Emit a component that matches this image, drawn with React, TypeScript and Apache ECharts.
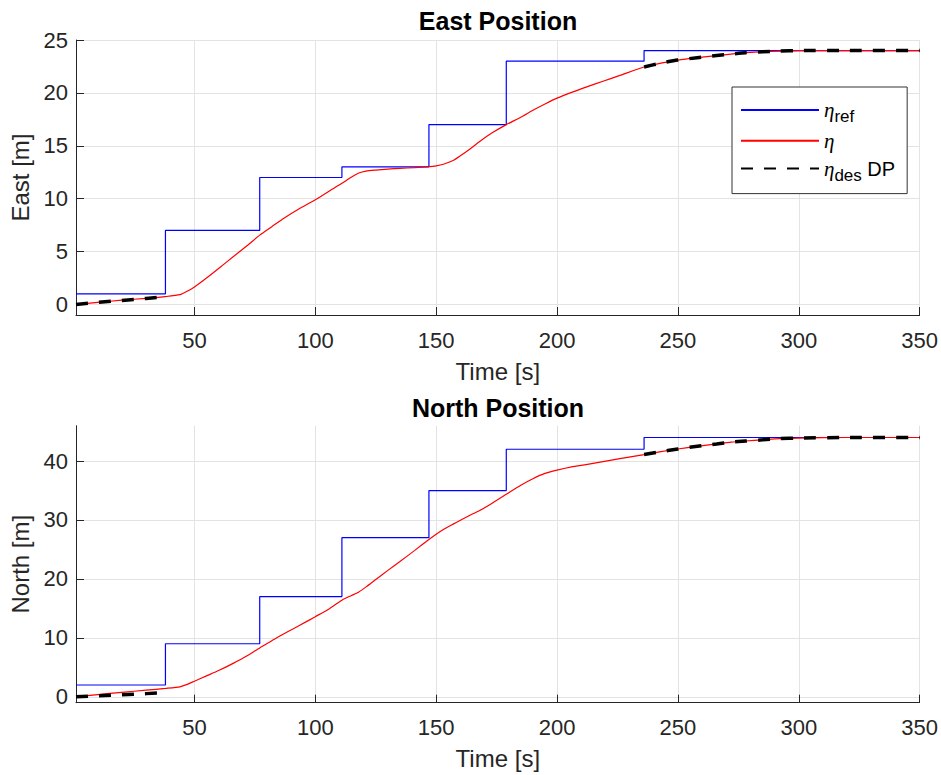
import React, { useEffect, useRef } from 'react';
import * as echarts from 'echarts';

// Reference (step) signal: change times and levels
const stepTimes = [1, 38, 77, 111, 147, 179, 236, 350];
const eastRef = [1, 7, 12, 13, 17, 23, 24, 24];
const northRef = [2, 9, 17, 27, 35, 42, 44, 44];

// Actual position eta
const etaTimes = [
  1, 10, 20, 30, 38, 44, 47, 50, 55, 60, 66, 72, 77, 82, 87, 93, 100, 106, 111, 115,
  118, 121, 125, 130, 135, 141, 147, 150, 153, 157, 160, 164, 168, 173, 179, 185, 190, 195, 200, 206,
  212, 219, 226, 236, 243, 250, 258, 266, 272, 278, 285, 292, 300, 320, 350,
];
const eastEta = [
  0, 0.2, 0.4, 0.58, 0.74, 0.92, 1.25, 1.65, 2.5, 3.4, 4.5, 5.6, 6.55, 7.35, 8.15, 9.0, 9.9, 10.75, 11.45, 12.05,
  12.42, 12.6, 12.7, 12.8, 12.87, 12.93, 13.02, 13.1, 13.25, 13.6, 14.05, 14.7, 15.4, 16.2, 17.0, 17.7, 18.35, 18.95, 19.5, 20.05,
  20.55, 21.1, 21.65, 22.45, 22.82, 23.1, 23.33, 23.53, 23.67, 23.8, 23.88, 23.95, 24.0, 24.0, 24.0,
];
const northEta = [
  0, 0.38, 0.76, 1.12, 1.43, 1.7, 2.1, 2.65, 3.55, 4.45, 5.67, 7.0, 8.3, 9.5, 10.7, 12.0, 13.6, 15.0, 16.4, 17.2,
  17.8, 18.65, 19.9, 21.45, 22.95, 24.8, 26.7, 27.6, 28.4, 29.3, 29.95, 30.8, 31.6, 32.8, 34.35, 35.9, 37.0, 37.9, 38.45, 39.0,
  39.4, 39.9, 40.4, 41.1, 41.6, 42.05, 42.5, 42.9, 43.2, 43.4, 43.6, 43.8, 43.9, 44.0, 44.0,
];

// Desired DP position (only during DP phases)
const desTimesA = [1, 10, 20, 30, 38];
const eastDesA = [0, 0.19, 0.38, 0.56, 0.72];
const northDesA = [0, 0.18, 0.36, 0.54, 0.7];
const desTimesB = [236, 243, 250, 258, 266, 272, 278, 285, 292, 300, 320, 350];
const eastDesB = [22.45, 22.82, 23.1, 23.33, 23.53, 23.67, 23.8, 23.88, 23.95, 24.0, 24.0, 24.0];
const northDesB = [41.1, 41.6, 42.05, 42.5, 42.9, 43.2, 43.4, 43.6, 43.8, 43.9, 44.0, 44.0];

// Axis ticks
const xTicks = [50, 100, 150, 200, 250, 300, 350];
const eastTicks = [0, 5, 10, 15, 20, 25];
const northTicks = [0, 10, 20, 30, 40];

const titles = ['East Position', 'North Position'];
const yNames = ['East [m]', 'North [m]'];
const seriesNames = ['ηref', 'η', 'ηdes DP'];

const FONT = "'Liberation Sans', Arial, Helvetica, sans-serif";
const AX = '#262626';
const GRIDC = '#e3e3e3';

const zip = (xs: number[], ys: number[]) => xs.map((x, i) => [x, ys[i]]);

function xAxis(gridIndex: number) {
  return {
    type: 'value',
    gridIndex,
    min: 1,
    max: 350,
    name: 'Time [s]',
    nameLocation: 'middle',
    nameGap: 44,
    nameTextStyle: { fontFamily: FONT, fontSize: 24, color: AX },
    axisLine: { show: true, onZero: false, lineStyle: { color: AX, width: 1 } },
    axisTick: { show: true, inside: true, length: 8, customValues: xTicks, lineStyle: { color: AX } },
    axisLabel: { customValues: xTicks, fontFamily: FONT, fontSize: 22, color: AX, margin: 14 },
    splitLine: { show: true, lineStyle: { color: GRIDC, width: 1 } },
  };
}

function yAxis(gridIndex: number, max: number, ticks: number[], name: string) {
  return {
    type: 'value',
    gridIndex,
    min: -1,
    max,
    name,
    nameLocation: 'middle',
    nameGap: 42,
    nameTextStyle: { fontFamily: FONT, fontSize: 24, color: AX },
    axisLine: { show: true, onZero: false, lineStyle: { color: AX, width: 1 } },
    axisTick: { show: true, inside: true, length: 8, customValues: ticks, lineStyle: { color: AX } },
    axisLabel: { customValues: ticks, fontFamily: FONT, fontSize: 22, color: AX, margin: 8 },
    splitLine: { show: true, lineStyle: { color: GRIDC, width: 1 } },
  };
}

function seriesFor(idx: number, refVals: number[], etaVals: number[], desA: number[], desB: number[]) {
  const common = { type: 'line', xAxisIndex: idx, yAxisIndex: idx, symbol: 'none', silent: true, animation: false };
  const dashed = { color: '#000000', width: 3.5, type: [12, 11] };
  return [
    {
      ...common,
      name: seriesNames[0],
      step: 'end',
      data: zip(stepTimes, refVals),
      lineStyle: { color: '#0000ff', width: 1.2 },
      itemStyle: { color: '#0000ff' },
      z: 2,
    },
    {
      ...common,
      name: seriesNames[1],
      data: zip(etaTimes, etaVals),
      smooth: 0.2,
      lineStyle: { color: '#ff0000', width: 1.2 },
      itemStyle: { color: '#ff0000' },
      z: 3,
    },
    {
      ...common,
      name: seriesNames[2],
      data: zip(desTimesA, desA),
      lineStyle: dashed,
      itemStyle: { color: '#000000' },
      z: 4,
    },
    {
      ...common,
      name: seriesNames[2],
      data: zip(desTimesB, desB),
      smooth: 0.2,
      lineStyle: dashed,
      itemStyle: { color: '#000000' },
      z: 4,
    },
  ];
}

const option = {
  animation: false,
  backgroundColor: '#ffffff',
  title: [
    {
      text: titles[0],
      left: 498,
      top: 8,
      textAlign: 'center',
      padding: 0,
      textStyle: { fontFamily: FONT, fontSize: 25, fontWeight: 'bold', color: '#000' },
    },
    {
      text: titles[1],
      left: 498,
      top: 395,
      textAlign: 'center',
      padding: 0,
      textStyle: { fontFamily: FONT, fontSize: 25, fontWeight: 'bold', color: '#000' },
    },
  ],
  grid: [
    { left: 76, right: 20.3, top: 40, height: 275, containLabel: false },
    { left: 76, right: 20.3, top: 425.7, height: 277, containLabel: false },
  ],
  xAxis: [xAxis(0), xAxis(1)],
  yAxis: [yAxis(0, 25, eastTicks, yNames[0]), yAxis(1, 46, northTicks, yNames[1])],
  legend: {
    orient: 'vertical',
    left: 732,
    top: 87,
    padding: [10.5, 12, 9.5, 8],
    itemGap: 3,
    itemWidth: 78,
    itemHeight: 31,
    backgroundColor: '#ffffff',
    borderColor: '#333333',
    borderWidth: 1,
    borderRadius: 0,
    selectedMode: false,
    itemStyle: { opacity: 0, borderWidth: 0 },
    data: seriesNames,
    formatter: (name: string) => {
      if (name === seriesNames[0]) return '{e|η}{s|ref}';
      if (name === seriesNames[1]) return '{e|η}';
      return '{e|η}{s|des}{n| DP}';
    },
    textStyle: {
      fontFamily: FONT,
      fontSize: 20,
      color: '#000',
      rich: {
        e: { fontFamily: "'Liberation Serif', 'DejaVu Serif', serif", fontStyle: 'italic', fontSize: 21, lineHeight: 31, color: '#000' },
        s: { fontFamily: FONT, fontSize: 17, lineHeight: 15, verticalAlign: 'bottom', color: '#000' },
        n: { fontFamily: FONT, fontSize: 20, lineHeight: 31, color: '#000' },
      },
    },
  },
  series: [
    ...seriesFor(0, eastRef, eastEta, eastDesA, eastDesB),
    ...seriesFor(1, northRef, northEta, northDesA, northDesB),
  ],
};

export default function App() {
  const ref = useRef<HTMLDivElement>(null);
  useEffect(() => {
    const chart = echarts.init(ref.current as HTMLDivElement, null, { renderer: 'svg' });
    chart.setOption(option as any);
    return () => chart.dispose();
  }, []);
  return (
    <div
      ref={ref}
      style={{ position: 'fixed', left: 0, top: 0, width: 941, height: 775, background: '#fff' }}
    />
  );
}
